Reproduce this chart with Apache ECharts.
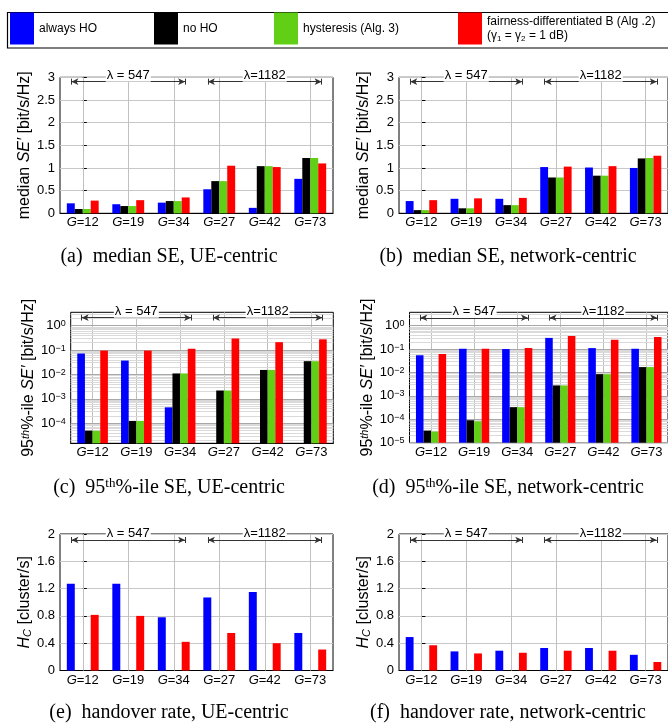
<!DOCTYPE html>
<html>
<head>
<meta charset="utf-8">
<script src="https://cdn.jsdelivr.net/npm/echarts@6/dist/echarts.min.js"></script>
<style>
  html, body { margin: 0; padding: 0; background: #fff; }
  #chart { width: 668px; height: 724px; }
</style>
</head>
<body>
<div id="chart"></div>
<script>
  /* categories and legend */
  var groups = ['12', '19', '34', '27', '42', '73'];
  var seriesNames = ['always HO', 'no HO', 'hysteresis (Alg. 3)', 'fairness-differentiated B (Alg .2)'];
  var colors = ['#0000ff', '#000000', '#62cf17', '#ff0000'];

  /* (a) median SE, UE-centric */
  var medUeAlways = [0.22, 0.20, 0.235, 0.53, 0.12, 0.76];
  var medUeNoHo = [0.095, 0.16, 0.27, 0.71, 1.04, 1.22];
  var medUeHyst = [0.095, 0.16, 0.27, 0.71, 1.04, 1.22];
  var medUeFair = [0.28, 0.29, 0.35, 1.05, 1.02, 1.10];

  /* (b) median SE, network-centric */
  var medNetAlways = [0.27, 0.32, 0.32, 1.02, 1.01, 1.00];
  var medNetNoHo = [0.07, 0.11, 0.18, 0.79, 0.83, 1.21];
  var medNetHyst = [0.07, 0.11, 0.18, 0.79, 0.83, 1.22];
  var medNetFair = [0.29, 0.33, 0.34, 1.03, 1.04, 1.27];

  /* (c) 95th-ile SE, UE-centric */
  var p95UeAlways = [0.072, 0.037, 4.5e-4, null, null, null];
  var p95UeNoHo = [5.0e-5, 1.25e-4, 0.011, 0.0022, 0.0153, 0.035];
  var p95UeHyst = [4.9e-5, 1.25e-4, 0.011, 0.0022, 0.0153, 0.035];
  var p95UeFair = [0.095, 0.095, 0.114, 0.30, 0.21, 0.275];

  /* (d) 95th-ile SE, network-centric */
  var p95NetAlways = [0.055, 0.103, 0.10, 0.30, 0.11, 0.103];
  var p95NetNoHo = [3.3e-5, 9.1e-5, 3.3e-4, 2.8e-3, 8.5e-3, 0.017];
  var p95NetHyst = [3.0e-5, 8.2e-5, 3.3e-4, 2.8e-3, 8.5e-3, 0.017];
  var p95NetFair = [0.061, 0.103, 0.11, 0.36, 0.25, 0.33];

  /* (e) handover rate, UE-centric */
  var hoUeAlways = [1.27, 1.27, 0.78, 1.07, 1.15, 0.55];
  var hoUeFair = [0.815, 0.80, 0.42, 0.55, 0.40, 0.307];

  /* (f) handover rate, network-centric */
  var hoNetAlways = [0.49, 0.28, 0.29, 0.33, 0.33, 0.23];
  var hoNetFair = [0.37, 0.25, 0.26, 0.29, 0.29, 0.125];
  var noValues = [null, null, null, null, null, null];

  /* lambda annotations (category positions) */
  var lambdaLabels = ['λ = 547', 'λ=1182'];
  var lambdaSpans = [[-0.25, 2.25], [2.75, 5.25]];

  var SANS = '"Liberation Sans", Arial, sans-serif';
  var SERIF = '"Liberation Serif", "Times New Roman", serif';

  var nameMedian = '{n|median }{i|SE′}{n| [bit/s/Hz]}';
  var name95 = '{n|95}{sup|th}{n|%-ile }{i|SE′}{n| [bit/s/Hz]}';
  var nameHo = '{i|H}{sub|C}{n| [cluster/s]}';

  var panels = [
    {left: 60, top: 77.3, width: 273, height: 136, log: false, max: 3, interval: 0.5, arrowY: 0.968,
      name: nameMedian, nameGap: 24, data: [medUeAlways, medUeNoHo, medUeHyst, medUeFair]},
    {left: 399, top: 77.3, width: 274, height: 136, log: false, max: 3, interval: 0.5, arrowY: 0.968,
      name: nameMedian, nameGap: 24, data: [medNetAlways, medNetNoHo, medNetHyst, medNetFair]},
    {left: 70.7, top: 312.3, width: 262.6, height: 131, log: true, minExp: -4.82, maxExp: 0.546, arrowY: 0.959,
      name: name95, nameGap: 34, data: [p95UeAlways, p95UeNoHo, p95UeHyst, p95UeFair]},
    {left: 409.5, top: 312.3, width: 263.4, height: 130.4, log: true, minExp: -5, maxExp: 0.571, arrowY: 0.958,
      name: name95, nameGap: 34, data: [p95NetAlways, p95NetNoHo, p95NetHyst, p95NetFair]},
    {left: 60, top: 534, width: 273, height: 136.5, log: false, max: 2, interval: 0.4, arrowY: 0.956,
      name: nameHo, nameGap: 24, data: [hoUeAlways, noValues, noValues, hoUeFair]},
    {left: 399, top: 534, width: 274, height: 136.5, log: false, max: 2, interval: 0.4, arrowY: 0.956,
      name: nameHo, nameGap: 24, data: [hoNetAlways, noValues, noValues, hoNetFair]}
  ];

  var captions = [
    {x: 169, y: 257, text: '(a)  median SE, UE-centric'},
    {x: 508, y: 257, text: '(b)  median SE, network-centric'},
    {x: 169, y: 488, text: '(c)  95{sup|th}%-ile SE, UE-centric'},
    {x: 508, y: 488, text: '(d)  95{sup|th}%-ile SE, network-centric'},
    {x: 169, y: 713, text: '(e)  handover rate, UE-centric'},
    {x: 508, y: 713, text: '(f)  handover rate, network-centric'}
  ];

  var legendLeft = [10, 154, 274, 458];

  var nameRich = {
    n: {fontFamily: SANS, fontSize: 16, lineHeight: 16, color: '#000'},
    i: {fontFamily: SANS, fontSize: 16, lineHeight: 16, fontStyle: 'italic', color: '#000'},
    sup: {fontFamily: SANS, fontSize: 11, lineHeight: 11, fontStyle: 'italic', verticalAlign: 'top', padding: [0, 0, 7, 0], color: '#000'},
    sub: {fontFamily: SANS, fontSize: 11, lineHeight: 11, fontStyle: 'italic', verticalAlign: 'bottom', padding: [7, 0, 0, 0], color: '#000'}
  };

  function logBar(k) {
    return function (params, api) {
      var v = api.value(1);
      if (v == null || isNaN(v) || v <= 0) return;
      var top = api.coord([api.value(0), v]);
      var cs = params.coordSys;
      var bw = api.size([1, 0])[0] * 0.175;
      return {
        type: 'rect',
        shape: {x: top[0] + (k - 2) * bw, y: top[1], width: bw, height: cs.y + cs.height - top[1]},
        style: {fill: api.visual('color')}
      };
    };
  }

  function expLabel(e) {
    return '{b|10}{s|' + (e < 0 ? '−' + (-e) : e) + '}';
  }

  var grid = [], xAxis = [], yAxis = [], series = [];

  panels.forEach(function (p, idx) {
    grid.push({left: p.left, top: p.top, width: p.width, height: p.height,
      show: true, borderColor: '#000', borderWidth: 1, backgroundColor: 'transparent'});

    xAxis[idx] = {
      gridIndex: idx, type: 'category', data: groups,
      axisLine: {lineStyle: {color: '#000', width: 1}},
      axisTick: {show: false},
      axisLabel: {interval: 0, margin: 3, color: '#000', formatter: '{i|G}{n|=}{n|{value}}',
        rich: {i: {fontFamily: SANS, fontSize: 13, fontStyle: 'italic'}, n: {fontFamily: SANS, fontSize: 13}}},
      splitLine: {show: false}
    };
    xAxis[6 + idx] = {gridIndex: idx, type: 'value', min: -0.5, max: 5.5, show: false};

    var y = {
      gridIndex: idx,
      name: p.name, nameLocation: 'middle', nameGap: p.nameGap, nameRotate: 90,
      nameTextStyle: {rich: nameRich},
      axisLine: {show: true, lineStyle: {color: '#000', width: 1}}
    };
    if (p.log) {
      y.type = 'log';
      y.min = Math.pow(10, p.minExp);
      y.max = Math.pow(10, p.maxExp);
      y.axisLabel = {show: false};
      y.axisTick = {show: false};
      y.splitLine = {show: false};
    } else {
      y.type = 'value';
      y.min = 0;
      y.max = p.max;
      y.interval = p.interval;
      y.axisLabel = {color: '#000', fontFamily: SANS, fontSize: 13, margin: 5};
      y.axisTick = {show: true, inside: true, length: 4, lineStyle: {color: '#000'}};
      y.splitLine = {lineStyle: {color: '#c8c8c8', width: 1}};
    }
    yAxis[idx] = y;
    yAxis[6 + idx] = {gridIndex: idx, type: 'value', min: 0, max: 1, show: false};
    // exponent axis (linear in log10) used only for the log grid lines
    yAxis[12 + idx] = p.log
      ? {gridIndex: idx, type: 'value', min: p.minExp, max: p.maxExp, show: false}
      : {gridIndex: idx, type: 'value', min: 0, max: 1, show: false};

    // data series
    p.data.forEach(function (vals, k) {
      if (p.log) {
        series.push({
          name: seriesNames[k], type: 'custom', xAxisIndex: idx, yAxisIndex: idx,
          itemStyle: {color: colors[k]}, z: 3,
          renderItem: logBar(k),
          encode: {x: 0, y: 1},
          data: vals.map(function (v, i) { return [i, v == null ? '-' : v]; })
        });
      } else {
        series.push({
          name: seriesNames[k], type: 'bar', xAxisIndex: idx, yAxisIndex: idx,
          barWidth: '17.5%', barGap: '0%',
          itemStyle: {color: colors[k]}, z: 3,
          data: vals
        });
      }
    });

    // grid lines drawn through the scales
    var gl = groups.map(function (g, i) {
      return {xAxis: i, lineStyle: {color: '#c0c0c0', width: 1, type: 'solid'}, label: {show: false}};
    });
    if (p.log) {
      for (var e = Math.floor(p.minExp); e <= Math.ceil(p.maxExp); e++) {
        for (var m = 1; m <= 9; m++) {
          var le = e + Math.log10(m);
          if (le < p.minExp - 1e-9 || le > p.maxExp + 1e-9) continue;
          if (m === 1) {
            gl.push({yAxis: le, lineStyle: {color: '#a8a8a8', width: 1, type: 'solid'},
              label: {show: true, position: 'start', distance: 5, formatter: expLabel(e),
                rich: {
                  b: {fontFamily: SANS, fontSize: 13, lineHeight: 13, color: '#000'},
                  s: {fontFamily: SANS, fontSize: 9, lineHeight: 9, verticalAlign: 'top', padding: [0, 0, 9, 0], color: '#000'}
                }}});
          } else {
            gl.push({yAxis: le, lineStyle: {color: '#dadada', width: 1, type: 'solid'}, label: {show: false}});
          }
        }
      }
    }
    series.push({
      type: 'line', xAxisIndex: idx, yAxisIndex: 12 + idx, data: [], silent: true,
      markLine: {silent: true, symbol: 'none', z: 1, animation: false, data: gl}
    });

    // lambda annotations
    series.push({
      type: 'line', xAxisIndex: 6 + idx, yAxisIndex: 6 + idx, data: [], silent: true,
      markLine: {
        silent: true, symbol: ['arrow', 'arrow'], symbolSize: [5, 7], animation: false,
        lineStyle: {color: '#333', width: 1, type: 'solid'},
        label: {show: true, position: 'middle', distance: 0, color: '#000', fontFamily: SANS, fontSize: 13,
          backgroundColor: '#fff', padding: [0, 1]},
        data: lambdaSpans.map(function (s, i) {
          return [{coord: [s[0], p.arrowY], name: lambdaLabels[i], label: {formatter: lambdaLabels[i]}},
                  {coord: [s[1], p.arrowY]}];
        })
      }
    });
    // small end bars of the lambda arrows
    var caps = [];
    lambdaSpans.forEach(function (s) {
      s.forEach(function (x) {
        caps.push([{coord: [x, p.arrowY - 0.022]}, {coord: [x, p.arrowY + 0.022]}]);
      });
    });
    series.push({
      type: 'line', xAxisIndex: 6 + idx, yAxisIndex: 6 + idx, data: [], silent: true,
      markLine: {silent: true, symbol: 'none', animation: false, label: {show: false},
        lineStyle: {color: '#333', width: 1, type: 'solid'}, data: caps}
    });
  });

  var legend = seriesNames.map(function (n, k) {
    return {
      data: [n], left: legendLeft[k], top: 12.5, padding: 0, itemGap: 0,
      itemWidth: 24, itemHeight: 32, icon: 'rect', selectedMode: false,
      itemStyle: {borderWidth: 0},
      formatter: k === 3
        ? '{n|fairness-differentiated B (Alg .2)}\n{n|(γ}{s|1}{n| = γ}{s|2}{n| = 1 dB)}'
        : '{n|{name}}',
      textStyle: {
        rich: {
          n: {fontFamily: SANS, fontSize: 12, lineHeight: 14, color: '#000'},
          s: {fontFamily: SANS, fontSize: 8, lineHeight: 14, verticalAlign: 'bottom', color: '#000'}
        }
      }
    };
  });

  var graphic = [{
    type: 'rect', left: 5, top: 10, silent: true,
    shape: {x: 0, y: 0, width: 662, height: 35.5},
    style: {fill: 'none', stroke: '#000', lineWidth: 1.2}
  }];
  captions.forEach(function (c) {
    graphic.push({
      type: 'text', x: c.x, y: c.y, silent: true,
      style: {
        text: c.text, align: 'center', verticalAlign: 'middle',
        fontFamily: SERIF, fontSize: 20, fill: '#000',
        rich: {sup: {fontFamily: SERIF, fontSize: 13, verticalAlign: 'top', padding: [0, 0, 8, 0]}}
      }
    });
  });

  var chart = echarts.init(document.getElementById('chart'), null, {renderer: 'canvas'});
  chart.setOption({
    animation: false,
    backgroundColor: '#fff',
    textStyle: {fontFamily: SANS},
    legend: legend,
    grid: grid,
    xAxis: xAxis,
    yAxis: yAxis,
    series: series,
    graphic: graphic
  });
</script>
</body>
</html>
